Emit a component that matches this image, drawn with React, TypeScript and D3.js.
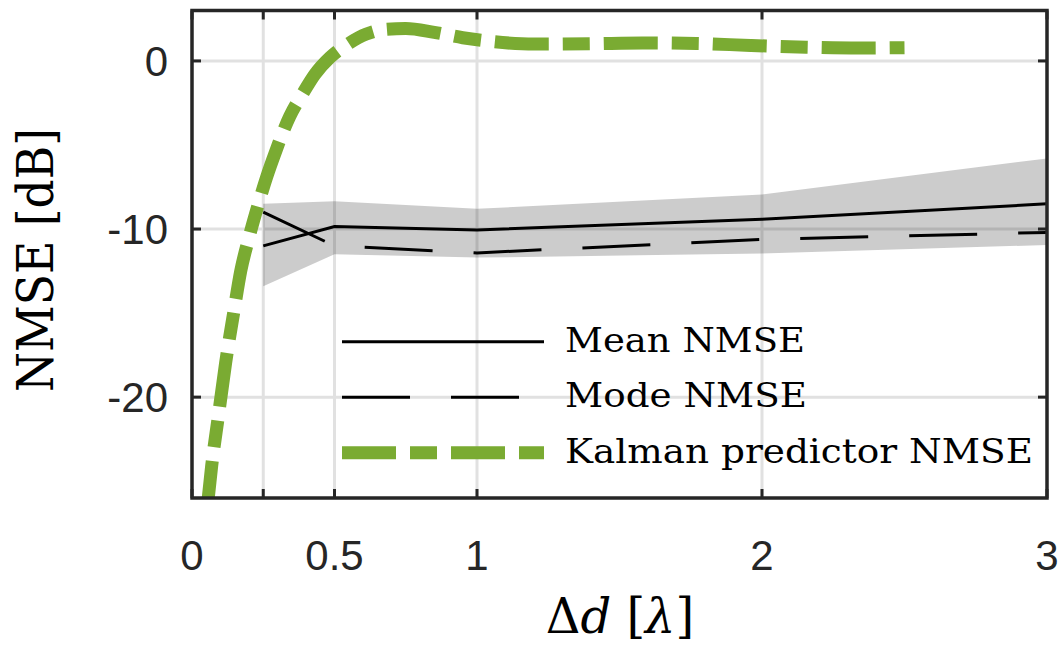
import { useEffect, useRef } from 'react';
import * as d3 from 'd3';

const width = 1061;
const height = 646;

// antenna spacing (in wavelengths) where the ensemble was evaluated
const spacings = [0.25, 0.5, 1, 2, 3];
const meanNmse = [-11.0, -9.85, -10.05, -9.42, -8.5];
const modeNmse = [-9.0, -11.0, -11.42, -10.62, -10.2];
const bandUpper = [-8.5, -8.35, -8.8, -7.95, -5.8];
const bandLower = [-13.4, -11.5, -11.7, -11.45, -10.95];

// Kalman predictor curve
const kalmanSpacing = [0.05, 0.057, 0.069, 0.092, 0.118, 0.148, 0.171, 0.2, 0.232, 0.262, 0.291, 0.343, 0.39, 0.431, 0.484, 0.542, 0.612, 0.68, 0.75, 0.85, 0.95, 1.055, 1.2, 1.395, 1.58, 1.77, 1.96, 2.155, 2.34, 2.5];
const kalmanNmse = [-27, -26, -24.1, -21.2, -17.96, -14.8, -12.5, -10.5, -8.56, -6.9, -5.5, -3.3, -1.9, -0.8, 0.2, 0.95, 1.6, 1.88, 1.93, 1.7, 1.38, 1.15, 1.0, 1.02, 1.07, 1.04, 0.92, 0.82, 0.77, 0.79];

const xTicks = [0, 0.25, 0.5, 1, 2, 3];
const xTickLabels = ['0', '', '0.5', '1', '2', '3'];
const yTicks = [0, -10, -20];
const yTickLabels = ['0', '-10', '-20'];
const legendLabels = ['Mean NMSE', 'Mode NMSE', 'Kalman predictor NMSE'];

const green = '#7aab32';
const axisColor = '#262626';

const App = () => {
  const svgRef = useRef<SVGSVGElement>(null);

  useEffect(() => {
    const svg = d3.select(svgRef.current);
    svg.selectAll('*').remove();

    const left = 192, right = 1047, top = 10.5, bottom = 498;

    const x = d3.scaleLinear().domain([0, 3]).range([left, right]);
    const y = d3.scaleLinear().domain([-26, 3]).range([bottom, top]);

    svg.append('defs').append('clipPath').attr('id', 'plot-clip')
      .append('rect')
      .attr('x', left).attr('y', top)
      .attr('width', right - left).attr('height', bottom - top);

    // grid
    const grid = svg.append('g');
    grid.selectAll('.gx')
      .data(xTicks.filter(t => t > 0 && t < 3))
      .enter().append('line')
      .attr('x1', d => x(d)).attr('x2', d => x(d))
      .attr('y1', top).attr('y2', bottom)
      .attr('stroke', '#e1e1e1').attr('stroke-width', 3);
    grid.selectAll('.gy')
      .data(yTicks)
      .enter().append('line')
      .attr('x1', left).attr('x2', right)
      .attr('y1', d => y(d)).attr('y2', d => y(d))
      .attr('stroke', '#e1e1e1').attr('stroke-width', 3);

    const plot = svg.append('g').attr('clip-path', 'url(#plot-clip)');

    // spread band
    const bandData = spacings.map((s, i) => ({ s, lo: bandLower[i], hi: bandUpper[i] }));
    const area = d3.area<{ s: number; lo: number; hi: number }>()
      .x(d => x(d.s))
      .y0(d => y(d.lo))
      .y1(d => y(d.hi));
    plot.append('path')
      .attr('d', area(bandData))
      .attr('fill', '#000')
      .attr('fill-opacity', 0.2);

    const line = d3.line<[number, number]>()
      .x(d => x(d[0]))
      .y(d => y(d[1]));

    plot.append('path')
      .attr('d', line(spacings.map((s, i) => [s, meanNmse[i]])))
      .attr('fill', 'none').attr('stroke', '#000').attr('stroke-width', 3);

    plot.append('path')
      .attr('d', line(spacings.map((s, i) => [s, modeNmse[i]])))
      .attr('fill', 'none').attr('stroke', '#000').attr('stroke-width', 3)
      .attr('stroke-dasharray', '68 41');

    const smooth = d3.line<[number, number]>()
      .x(d => x(d[0]))
      .y(d => y(d[1]))
      .curve(d3.curveMonotoneX);

    plot.append('path')
      .attr('d', smooth(kalmanSpacing.map((s, i) => [s, kalmanNmse[i]])))
      .attr('fill', 'none').attr('stroke', green).attr('stroke-width', 13)
      .attr('stroke-dasharray', '54 14 27 14');

    // box + ticks
    svg.append('rect')
      .attr('x', left).attr('y', top)
      .attr('width', right - left).attr('height', bottom - top)
      .attr('fill', 'none').attr('stroke', axisColor).attr('stroke-width', 3.5);

    const tickLen = 9;
    const ticks = svg.append('g').attr('stroke', axisColor).attr('stroke-width', 3);
    xTicks.forEach(t => {
      ticks.append('line').attr('x1', x(t)).attr('x2', x(t)).attr('y1', bottom).attr('y2', bottom - tickLen);
      ticks.append('line').attr('x1', x(t)).attr('x2', x(t)).attr('y1', top).attr('y2', top + tickLen);
    });
    yTicks.forEach(t => {
      ticks.append('line').attr('x1', left).attr('x2', left + tickLen).attr('y1', y(t)).attr('y2', y(t));
      ticks.append('line').attr('x1', right).attr('x2', right - tickLen).attr('y1', y(t)).attr('y2', y(t));
    });

    // tick labels
    svg.append('g').selectAll('text')
      .data(xTicks)
      .enter().append('text')
      .attr('x', d => x(d))
      .attr('y', 570)
      .attr('text-anchor', 'middle')
      .attr('font-family', 'Liberation Sans, Arial, sans-serif')
      .attr('font-size', 42)
      .attr('fill', axisColor)
      .text((d, i) => xTickLabels[i]);

    svg.append('g').selectAll('text')
      .data(yTicks)
      .enter().append('text')
      .attr('x', 168)
      .attr('y', d => y(d) + 15)
      .attr('text-anchor', 'end')
      .attr('font-family', 'Liberation Sans, Arial, sans-serif')
      .attr('font-size', 42)
      .attr('fill', axisColor)
      .text((d, i) => yTickLabels[i]);

    // axis labels
    const xl = svg.append('text')
      .attr('x', 620).attr('y', 633)
      .attr('text-anchor', 'middle')
      .attr('font-family', 'DejaVu Serif, serif')
      .attr('font-size', 48)
      .attr('fill', '#000');
    xl.append('tspan').text('Δ');
    xl.append('tspan').attr('font-style', 'italic').text('d');
    xl.append('tspan').text(' [');
    xl.append('tspan').attr('font-style', 'italic').text('λ');
    xl.append('tspan').text(']');

    svg.append('text')
      .attr('transform', 'translate(53, 260) rotate(-90)')
      .attr('text-anchor', 'middle')
      .attr('font-family', 'DejaVu Serif, serif')
      .attr('font-size', 50)
      .attr('textLength', 264)
      .attr('lengthAdjust', 'spacingAndGlyphs')
      .attr('fill', '#000')
      .text('NMSE [dB]');

    // legend
    const legendY = [341.7, 397.3, 452.7];
    const legendWidths = [240, 242, 468];
    const legendStyles = [
      { stroke: '#000', w: 3, dash: null },
      { stroke: '#000', w: 3, dash: '68 41' },
      { stroke: green, w: 13, dash: '54 14 27 14' },
    ];
    const legend = svg.append('g');
    legendLabels.forEach((label, i) => {
      const st = legendStyles[i];
      legend.append('line')
        .attr('x1', 342).attr('x2', 544)
        .attr('y1', legendY[i]).attr('y2', legendY[i])
        .attr('stroke', st.stroke).attr('stroke-width', st.w)
        .attr('stroke-dasharray', st.dash);
      legend.append('text')
        .attr('x', 565).attr('y', legendY[i] + 10)
        .attr('font-family', 'DejaVu Serif, serif')
        .attr('font-size', 34)
        .attr('textLength', legendWidths[i])
        .attr('lengthAdjust', 'spacingAndGlyphs')
        .attr('fill', '#000')
        .text(label);
    });
  }, []);

  return (
    <svg
      ref={svgRef}
      width={width}
      height={height}
      style={{ position: 'absolute', left: 0, top: 0, background: '#fff' }}
    />
  );
};

export default App;
